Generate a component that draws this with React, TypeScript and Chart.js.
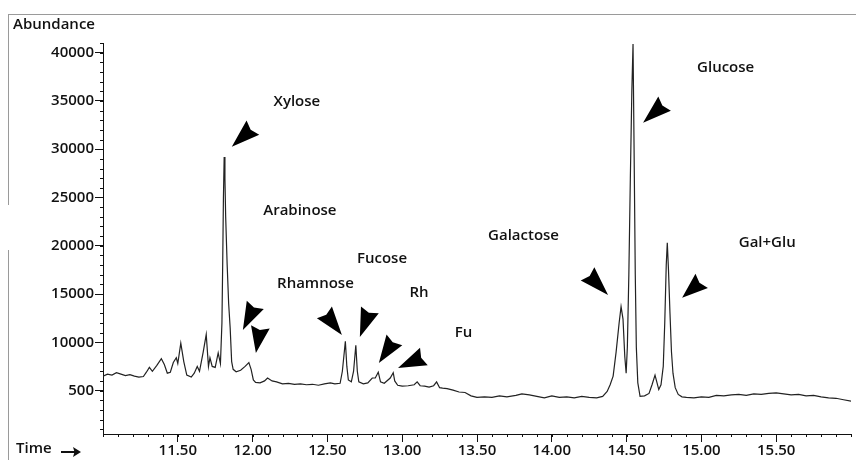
import { useEffect, useRef } from 'react';
import { Chart, registerables } from 'chart.js';

Chart.register(...registerables);

// Retention time (min)
const times = [
  11.0, 11.03, 11.06, 11.09, 11.12, 11.15, 11.18, 11.21, 11.24, 11.27,
  11.29, 11.31, 11.33, 11.36, 11.39, 11.41, 11.43, 11.45, 11.47, 11.49,
  11.5, 11.52, 11.54, 11.56, 11.59, 11.61, 11.63, 11.645, 11.67, 11.69,
  11.705, 11.715, 11.73, 11.75, 11.77, 11.785, 11.795, 11.8, 11.805, 11.81,
  11.815, 11.82, 11.83, 11.84, 11.85, 11.86, 11.87, 11.89, 11.92, 11.95,
  11.975, 11.99, 12.005, 12.02, 12.05, 12.08, 12.1, 12.13, 12.16, 12.2,
  12.24, 12.28, 12.32, 12.36, 12.4, 12.44, 12.48, 12.52, 12.55, 12.585,
  12.6, 12.62, 12.63, 12.64, 12.66, 12.675, 12.69, 12.7, 12.71, 12.74,
  12.77, 12.8, 12.82, 12.84, 12.855, 12.88, 12.92, 12.94, 12.95, 12.97,
  13.0, 13.04, 13.08, 13.1, 13.12, 13.15, 13.18, 13.21, 13.23, 13.25,
  13.27, 13.3, 13.34, 13.38, 13.42, 13.46, 13.5, 13.55, 13.6, 13.65,
  13.7, 13.76, 13.8, 13.85, 13.9, 13.95, 14.0, 14.05, 14.1, 14.15,
  14.2, 14.25, 14.3, 14.34, 14.37, 14.39, 14.41, 14.43, 14.45, 14.463,
  14.476, 14.488, 14.497, 14.505, 14.515, 14.525, 14.535, 14.543, 14.55, 14.558,
  14.565, 14.575, 14.59, 14.62, 14.65, 14.67, 14.69, 14.7, 14.715, 14.73,
  14.745, 14.755, 14.765, 14.772, 14.78, 14.79, 14.8, 14.81, 14.825, 14.845,
  14.87, 14.9, 14.95, 15.0, 15.05, 15.1, 15.15, 15.2, 15.25, 15.3,
  15.35, 15.4, 15.45, 15.5, 15.55, 15.6, 15.65, 15.7, 15.75, 15.8,
  15.85, 15.9, 15.95, 16.0,
];

// Abundance
const abundance = [
  6500, 6700, 6600, 6850, 6700, 6550, 6650, 6500, 6400, 6450,
  6900, 7400, 7000, 7600, 8300, 7700, 6800, 6900, 7900, 8400,
  7800, 9900, 8000, 6600, 6400, 6800, 7500, 7000, 9000, 10800,
  7500, 8400, 7500, 7400, 8900, 7800, 12000, 18000, 25000, 29200,
  27000, 23000, 18000, 14000, 11500, 8000, 7200, 6950, 7100, 7500,
  7900, 7200, 6100, 5850, 5800, 6000, 6300, 6000, 5900, 5700,
  5750, 5650, 5700, 5600, 5650, 5550, 5700, 5800, 5700, 5750,
  7000, 10100, 7500, 6100, 5900, 7000, 9700, 7000, 5900, 5700,
  5800, 6300, 6300, 6900, 5900, 5750, 6300, 6850, 6000, 5550,
  5450, 5500, 5600, 5900, 5500, 5450, 5350, 5500, 5900, 5300,
  5250, 5200, 5050, 4850, 4800, 4450, 4300, 4350, 4300, 4450,
  4350, 4500, 4650, 4550, 4400, 4250, 4450, 4300, 4350, 4250,
  4400, 4300, 4250, 4400, 4900, 5600, 6500, 9000, 12000, 13700,
  12400, 8500, 6800, 9500, 17000, 27000, 36000, 40900, 30000, 17000,
  9500, 5800, 4400, 4450, 4700, 5600, 6600, 6000, 5100, 5600,
  7500, 12000, 18000, 20300, 17500, 13000, 9000, 6800, 5300, 4600,
  4350, 4300, 4250, 4350, 4300, 4500, 4450, 4550, 4600, 4500,
  4650, 4600, 4700, 4750, 4650, 4550, 4600, 4450, 4500, 4350,
  4250, 4200, 4050, 3900,
];

const xTickValues = [11.5, 12.0, 12.5, 13.0, 13.5, 14.0, 14.5, 15.0, 15.5];
const xTickLabels = ['11.50', '12.00', '12.50', '13.00', '13.50', '14.00', '14.50', '15.00', '15.50'];
const yTickValues = [5000, 10000, 15000, 20000, 25000, 30000, 35000, 40000];
const yTickLabels = ['500', '10000', '15000', '20000', '25000', '30000', '35000', '40000'];

// Peak annotations (text centre in data coordinates)
const peakNames = ['Xylose', 'Arabinose', 'Rhamnose', 'Fucose', 'Rh', 'Fu', 'Galactose', 'Glucose', 'Gal+Glu'];
const peakNameTimes = [12.296, 12.316, 12.42, 12.865, 13.112, 13.41, 13.811, 15.162, 15.44];
const peakNameAbund = [34930, 23620, 16050, 18650, 15150, 10940, 21030, 38450, 20300];

// Arrowheads: tip and back centre in data coordinates
const arrowTipTimes = [11.861, 11.935, 12.022, 12.597, 12.717, 12.844, 12.972, 14.376, 14.61, 14.871];
const arrowTipAbund = [30260, 11280, 8900, 10760, 10560, 7860, 7340, 14910, 32750, 14600];
const arrowBackTimes = [12.002, 12.018, 12.052, 12.48, 12.784, 12.948, 13.145, 14.239, 14.754, 15.002];
const arrowBackAbund = [32230, 13875, 11590, 13100, 13360, 10250, 8530, 17090, 34720, 16360];

const FONT = '600 15px "Open Sans", sans-serif';
const INK = '#111';

const decorPlugin = {
  id: 'decor',
  afterDraw(chart: any) {
    const { ctx, scales } = chart;
    const xs = scales.x;
    const ys = scales.y;
    const area = chart.chartArea;
    ctx.save();

    // scanned frame
    ctx.strokeStyle = '#9a9a9a';
    ctx.lineWidth = 1;
    ctx.beginPath();
    ctx.moveTo(8, 14.5);
    ctx.lineTo(856, 14.5);
    ctx.moveTo(8.5, 14);
    ctx.lineTo(8.5, 205);
    ctx.moveTo(8.5, 250);
    ctx.lineTo(8.5, 460);
    ctx.stroke();

    // minor ticks
    ctx.strokeStyle = INK;
    ctx.beginPath();
    for (let i = 0; i <= 50; i++) {
      const px = Math.round(xs.getPixelForValue(11 + i * 0.1)) + 0.5;
      ctx.moveTo(px, area.bottom);
      ctx.lineTo(px, area.bottom + 3);
    }
    for (let v = 1000; v <= 41000; v += 1000) {
      const py = Math.round(ys.getPixelForValue(v)) + 0.5;
      ctx.moveTo(area.left - 3, py);
      ctx.lineTo(area.left, py);
    }
    ctx.stroke();

    // axis titles
    ctx.fillStyle = INK;
    ctx.font = FONT;
    ctx.textAlign = 'left';
    ctx.textBaseline = 'middle';
    ctx.fillText('Abundance', 13, 25);
    ctx.fillText('Time', 16, 449);

    // time arrow
    ctx.strokeStyle = INK;
    ctx.lineWidth = 2;
    ctx.beginPath();
    ctx.moveTo(61, 452);
    ctx.lineTo(76, 452);
    ctx.stroke();
    ctx.beginPath();
    ctx.moveTo(81, 452);
    ctx.lineTo(73, 447);
    ctx.lineTo(74.5, 452);
    ctx.lineTo(73, 457);
    ctx.closePath();
    ctx.fill();

    // peak labels
    ctx.font = FONT;
    ctx.textAlign = 'center';
    peakNames.forEach((name, i) => {
      ctx.fillText(name, xs.getPixelForValue(peakNameTimes[i]), ys.getPixelForValue(peakNameAbund[i]));
    });

    // arrowheads
    ctx.fillStyle = '#000';
    arrowTipTimes.forEach((_, i) => {
      const tx = xs.getPixelForValue(arrowTipTimes[i]);
      const ty = ys.getPixelForValue(arrowTipAbund[i]);
      const bx = xs.getPixelForValue(arrowBackTimes[i]);
      const by = ys.getPixelForValue(arrowBackAbund[i]);
      const dx = tx - bx;
      const dy = ty - by;
      const len = Math.hypot(dx, dy) || 1;
      const ux = dx / len;
      const uy = dy / len;
      const nx = -uy;
      const ny = ux;
      const hw = 9.5;
      const notch = 3;
      ctx.beginPath();
      ctx.moveTo(tx, ty);
      ctx.lineTo(bx + nx * hw, by + ny * hw);
      ctx.lineTo(bx + ux * notch, by + uy * notch);
      ctx.lineTo(bx - nx * hw, by - ny * hw);
      ctx.closePath();
      ctx.fill();
    });

    ctx.restore();
  },
};

export default function App() {
  const canvasRef = useRef<HTMLCanvasElement | null>(null);

  useEffect(() => {
    const canvas = canvasRef.current;
    if (!canvas) return;
    const chart = new Chart(canvas, {
      type: 'line',
      data: {
        datasets: [
          {
            data: times.map((t, i) => ({ x: t, y: abundance[i] })),
            borderColor: '#222',
            borderWidth: 1.2,
            pointRadius: 0,
            tension: 0,
            fill: false,
          },
        ],
      },
      options: {
        animation: false,
        responsive: false,
        devicePixelRatio: 1,
        events: [],
        layout: { padding: { top: 43, right: 5, left: 0, bottom: 0 } },
        plugins: {
          legend: { display: false },
          tooltip: { enabled: false },
        },
        scales: {
          x: {
            type: 'linear',
            min: 11,
            max: 16,
            afterBuildTicks: (scale: any) => {
              scale.ticks = xTickValues.map((v) => ({ value: v }));
            },
            afterFit: (scale: any) => {
              scale.height = 26;
            },
            ticks: {
              autoSkip: false,
              maxRotation: 0,
              padding: 0,
              color: INK,
              font: { family: '"Open Sans", sans-serif', size: 15, weight: '600' },
              callback: (value: any) => {
                const idx = xTickValues.indexOf(Number(value));
                return idx >= 0 ? xTickLabels[idx] : '';
              },
            },
            grid: {
              drawOnChartArea: false,
              drawTicks: true,
              tickLength: 8,
              color: INK,
            },
            border: { display: true, color: INK, width: 1 },
          },
          y: {
            type: 'linear',
            min: 500,
            max: 41000,
            afterBuildTicks: (scale: any) => {
              scale.ticks = yTickValues.map((v) => ({ value: v }));
            },
            afterFit: (scale: any) => {
              scale.width = 103;
            },
            ticks: {
              autoSkip: false,
              padding: 1,
              color: INK,
              font: { family: '"Open Sans", sans-serif', size: 15, weight: '600' },
              callback: (value: any) => {
                const idx = yTickValues.indexOf(Number(value));
                return idx >= 0 ? yTickLabels[idx] : '';
              },
            },
            grid: {
              drawOnChartArea: false,
              drawTicks: true,
              tickLength: 8,
              color: INK,
            },
            border: { display: true, color: INK, width: 1 },
          },
        },
      },
      plugins: [decorPlugin],
    });
    return () => chart.destroy();
  }, []);

  return (
    <div style={{ position: 'fixed', left: 0, top: 0, width: 856, height: 460, background: '#fff' }}>
      <canvas ref={canvasRef} width={856} height={460} style={{ display: 'block', width: 856, height: 460 }} />
    </div>
  );
}
